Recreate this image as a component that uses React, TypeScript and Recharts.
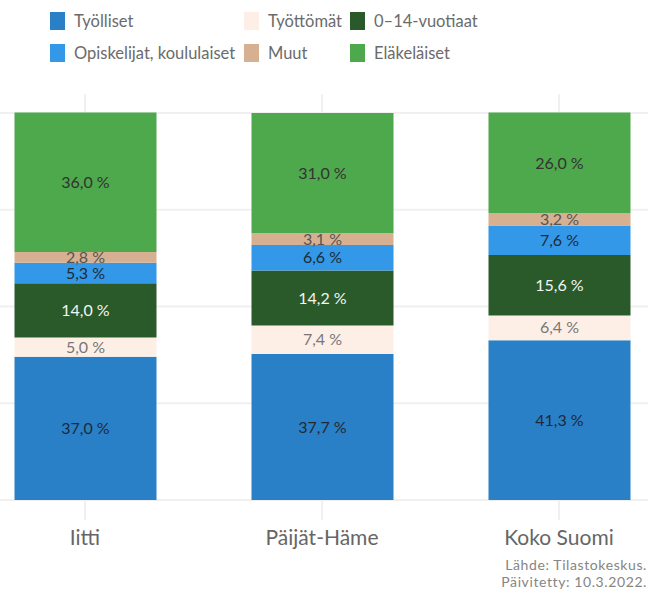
import React from 'react';
import { BarChart, Bar, XAxis, YAxis, CartesianGrid, LabelList } from 'recharts';

const FONT = 'Lato, "Noto Sans", sans-serif';

// Alueet (x-akseli)
const categories = ['Iitti', 'Päijät-Häme', 'Koko Suomi'];

// Väestö pääasiallisen toiminnan mukaan, %
const tyolliset = [37.0, 37.7, 41.3];
const tyottomat = [5.0, 7.4, 6.4];
const lapset = [14.0, 14.2, 15.6];
const opiskelijat = [5.3, 6.6, 7.6];
const muut = [2.8, 3.1, 3.2];
const elakelaiset = [36.0, 31.0, 26.0];

const yTicks = [0, 25, 50, 75, 100];

// sarjat alhaalta ylös
const SERIES = [
  { key: 'tyolliset', name: 'Työlliset', values: tyolliset, color: '#2a80c7', label: '#1e2a36' },
  { key: 'tyottomat', name: 'Työttömät', values: tyottomat, color: '#fdefe6', label: '#777777' },
  { key: 'lapset', name: '0–14-vuotiaat', values: lapset, color: '#2a5a29', label: '#f4f4f4' },
  { key: 'opiskelijat', name: 'Opiskelijat, koululaiset', values: opiskelijat, color: '#3398e8', label: '#1e2a36' },
  { key: 'muut', name: 'Muut', values: muut, color: '#d6b090', label: '#555555' },
  { key: 'elakelaiset', name: 'Eläkeläiset', values: elakelaiset, color: '#4ea84c', label: '#333333' },
];

const data = categories.map((name, i) => {
  const row: Record<string, string | number> = { name };
  SERIES.forEach((s) => { row[s.key] = s.values[i]; });
  return row;
});

// legendan järjestys kuten kuvassa
const LEGEND = [
  { key: 'tyolliset', x: 50, y: 12 },
  { key: 'tyottomat', x: 244, y: 12 },
  { key: 'lapset', x: 350, y: 12 },
  { key: 'opiskelijat', x: 50, y: 44 },
  { key: 'muut', x: 244, y: 44 },
  { key: 'elakelaiset', x: 350, y: 44 },
];

const fmt = (v: any) => `${Number(v).toFixed(1).replace('.', ',')} %`;

const XTick = (props: any) => {
  const { x, y, payload } = props;
  return (
    <text x={x} y={y + 23} textAnchor="middle" fill="#666" fontSize={21} fontFamily={FONT}>
      {payload.value}
    </text>
  );
};

export default function App() {
  return (
    <div style={{ position: 'absolute', left: 0, top: 0, width: 661, height: 594, background: '#fff', fontFamily: FONT }}>
      {LEGEND.map((l) => {
        const s = SERIES.find((x) => x.key === l.key)!;
        return (
          <div key={l.key} style={{ position: 'absolute', left: l.x, top: l.y, display: 'flex', alignItems: 'center', height: 18 }}>
            <span style={{ width: 15, height: 18, background: s.color, display: 'inline-block' }} />
            <span style={{ marginLeft: 9, fontSize: 16.5, color: '#6b6b6b', whiteSpace: 'nowrap', lineHeight: '18px' }}>{s.name}</span>
          </div>
        );
      })}

      <BarChart
        width={661}
        height={594}
        data={data}
        margin={{ top: 94, right: 13, bottom: 64, left: 0 }}
        style={{ position: 'absolute', left: 0, top: 0 }}
      >
        <CartesianGrid stroke="#f0f0f0" strokeWidth={2} syncWithTicks />
        <XAxis
          dataKey="name"
          axisLine={false}
          tickLine={{ stroke: '#f0f0f0', strokeWidth: 2 }}
          tickSize={20}
          height={30}
          padding={{ left: -33.5, right: -29.5 }}
          tick={<XTick />}
          interval={0}
        />
        <YAxis hide domain={[0, 104.9]} ticks={yTicks} allowDataOverflow />
        {SERIES.map((s) => (
          <Bar key={s.key} dataKey={s.key} name={s.name} stackId="a" fill={s.color} barSize={142} isAnimationActive={false}>
            <LabelList dataKey={s.key} position="center" formatter={fmt} fill={s.label} fontSize={16} fontFamily={FONT} />
          </Bar>
        ))}
      </BarChart>

      <div style={{ position: 'absolute', right: 14, top: 556, textAlign: 'right', fontSize: 14, letterSpacing: 0.6, lineHeight: '17px', color: '#858585' }}>
        <div>Lähde: Tilastokeskus.</div>
        <div>Päivitetty: 10.3.2022.</div>
      </div>
    </div>
  );
}
